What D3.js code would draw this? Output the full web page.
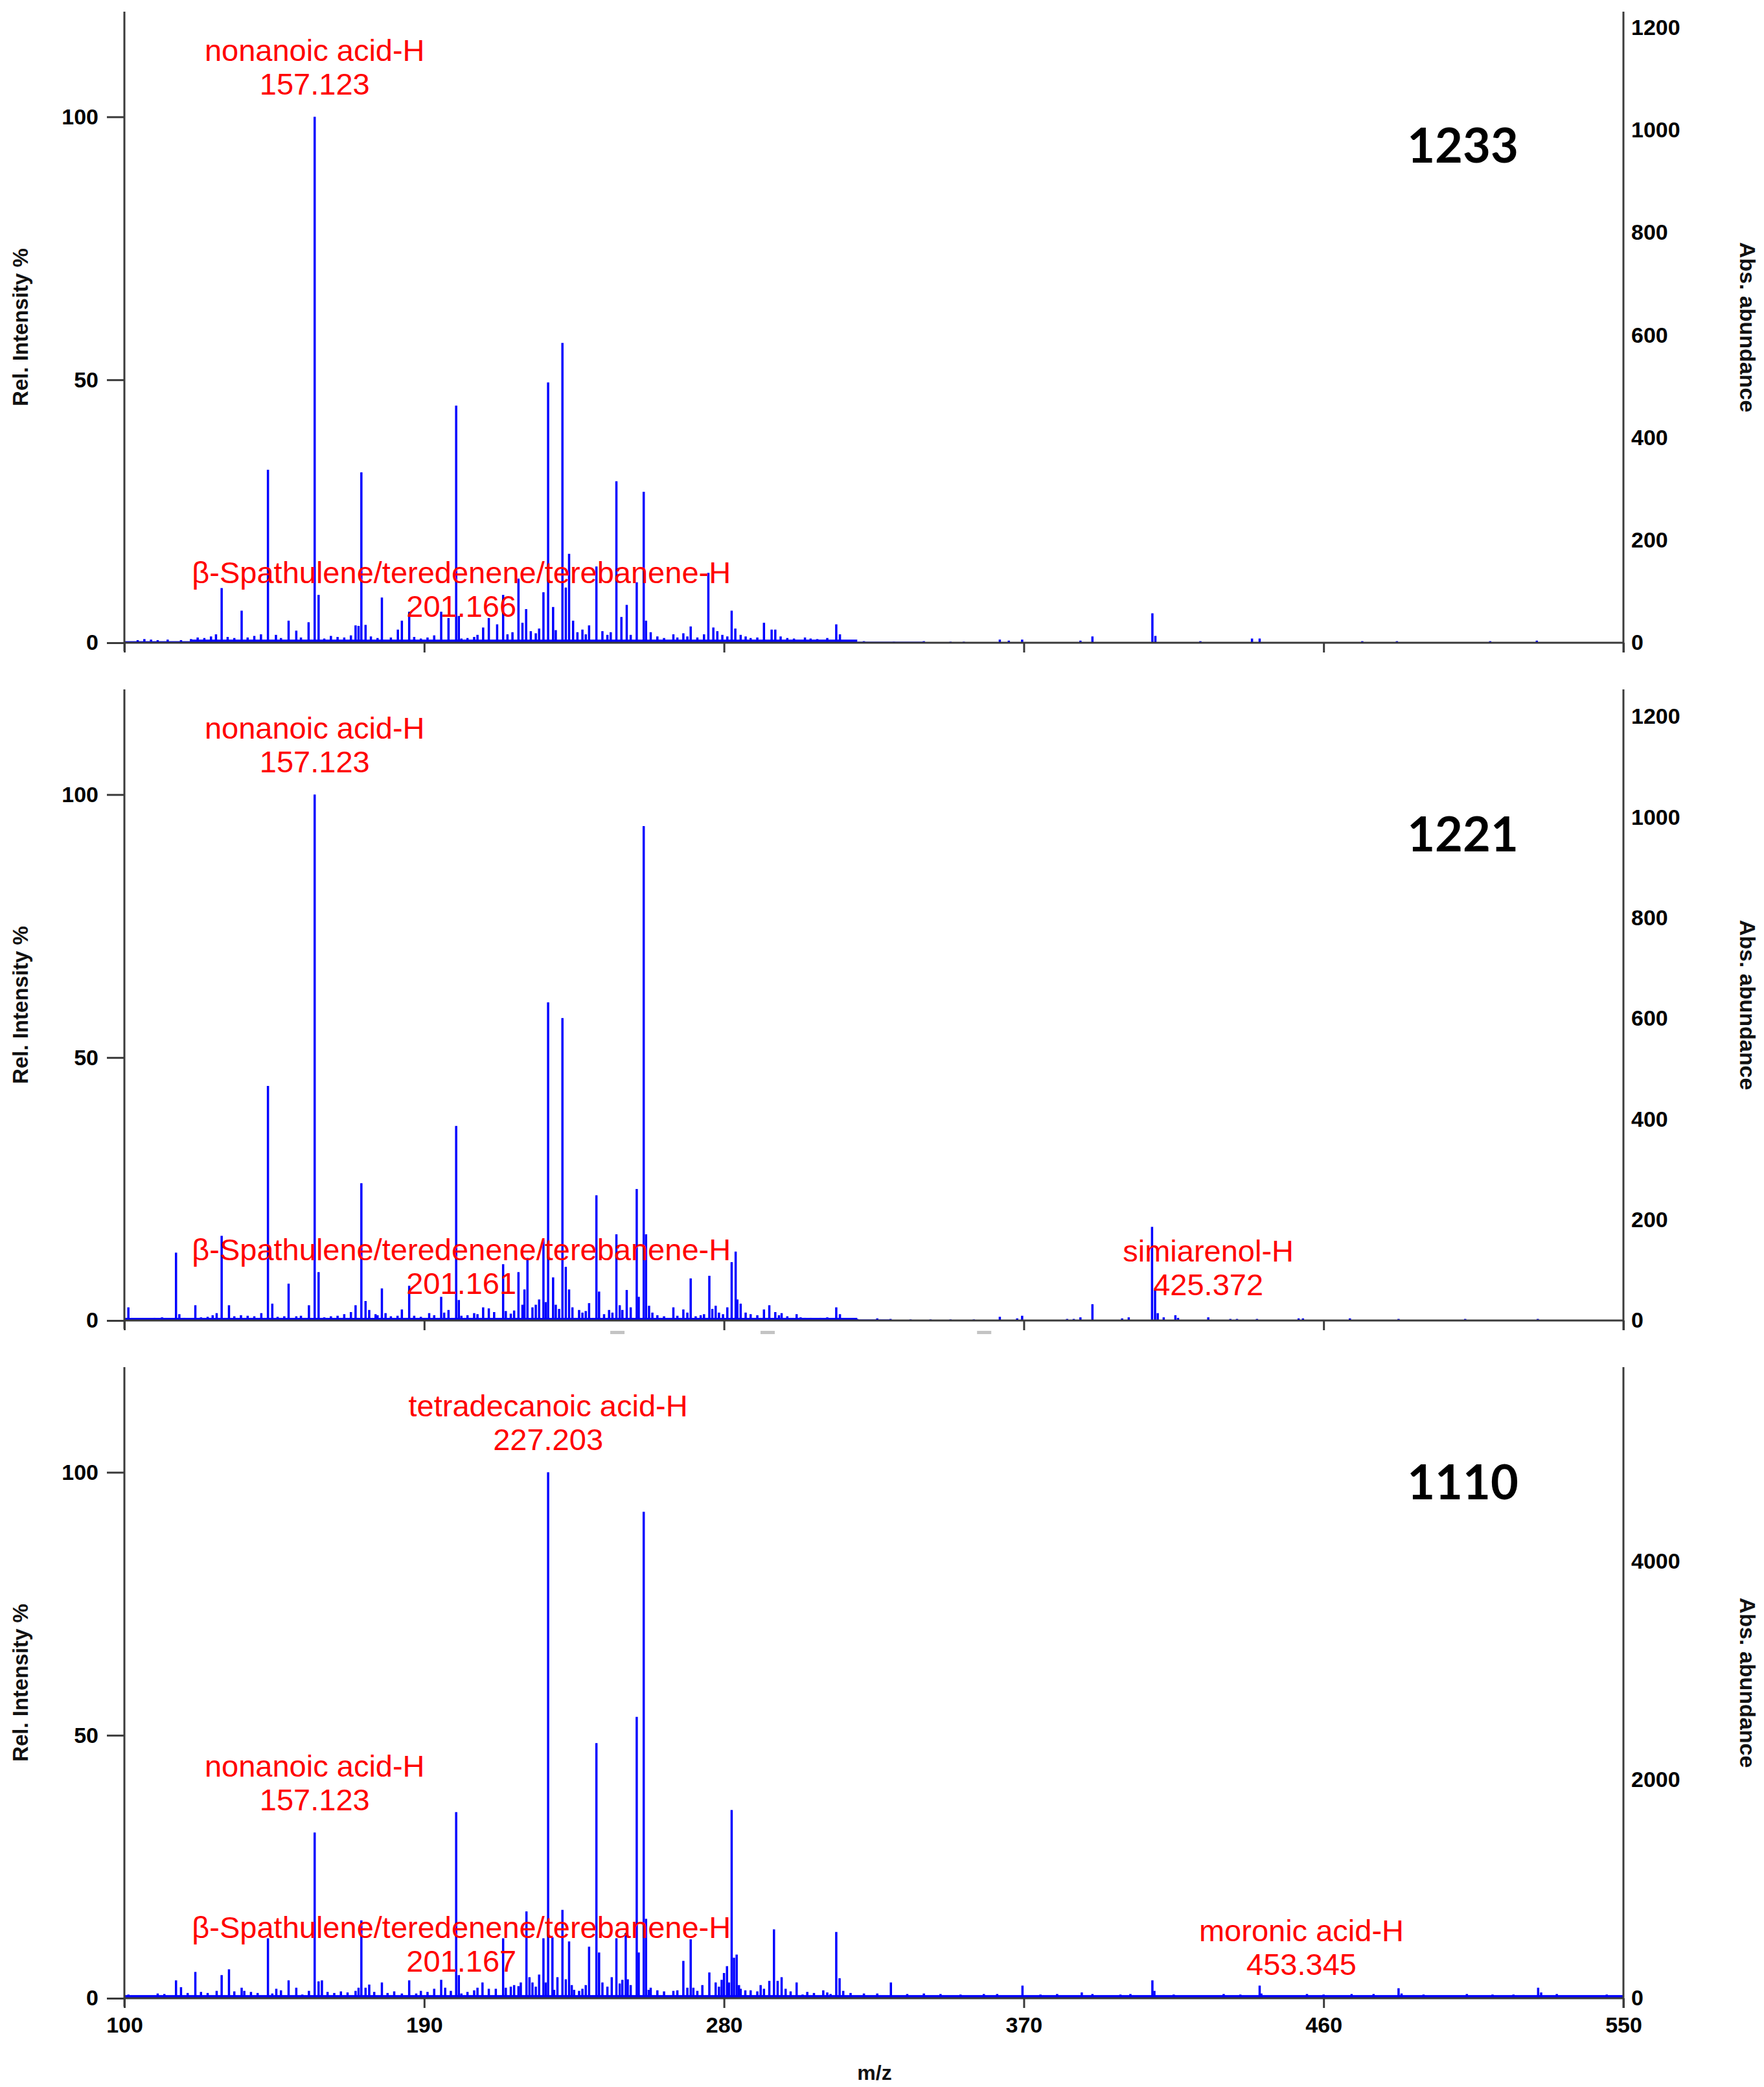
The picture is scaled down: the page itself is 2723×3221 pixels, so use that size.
<!DOCTYPE html>
<html>
<head>
<meta charset="utf-8">
<script src="https://cdn.jsdelivr.net/npm/d3@7/dist/d3.min.js"></script>
<style>
  html, body { margin: 0; padding: 0; background: #ffffff; }
  svg { display: block; }
</style>
</head>
<body>
<svg id="chart" width="2723" height="3221"></svg>
<script>
// ---------------- DATA ----------------
const panelNames = ["1233", "1221", "1110"];
const mzTicks = [100, 190, 280, 370, 460, 550];
const relTicks = [0, 50, 100];
const relMax = 120;
const absMax = [1231, 1254, 5780];
const absTicks1233 = [0, 200, 400, 600, 800, 1000, 1200];
const absTicks1221 = [0, 200, 400, 600, 800, 1000, 1200];
const absTicks1110 = [0, 2000, 4000];

// peaks: [m/z, relative intensity %]
const peaks1233 = [
  [129.2,10.4],[135.2,6.1],[143.1,32.9],[149.3,4.2],[151.6,2.3],[155.3,3.9],[157.123,100],[158.3,9.1],
  [169.4,3.3],[170.3,3.2],[171.14,32.4],[172.4,3.4],[177.3,8.6],[182.1,2.5],[183.3,4.2],[185.5,5.9],
  [195.1,5.9],[197.3,4.7],[199.6,45.1],[200.4,5.1],[201.166,0.8],[207.7,2.9],[209.4,4.7],[211.9,3.5],
  [213.7,9.1],[218.3,12.2],[220.6,6.4],[225.8,9.6],[227.2,49.5],[228.7,6.8],[231.5,57],[232.5,10.5],
  [233.5,16.9],[234.7,4.2],[239.5,3.3],[241.7,14.5],[247.7,30.7],[249.2,4.9],[250.8,7.2],[253.8,11.5],
  [255.9,28.7],[256.6,4.2],[264.8,1.6],[267.8,1.8],[270.0,3.1],[275.3,13.3],[276.8,2.9],[282.3,6.1],
  [283.4,2.7],[292,3.8],[294.3,2.5],[295.4,2.5],[304.3,1],[313.7,3.5],[314.8,1.6],
  [104,0.5],[106,0.7],[108,0.6],[110,0.5],[113,0.6],[117,0.5],[120,0.7],[122,1.0],[124,0.9],[126,1.2],
  [127.5,1.6],[131,1.1],[133,0.9],[137,1.0],[139,1.3],[141,1.6],[145.5,1.5],[147,0.9],[153,1.0],[160,0.8],
  [162,1.3],[164,1.1],[166,1.0],[168,1.4],[174,1.2],[176,0.9],[180,1.0],[187,1.1],[189,0.8],[191,1.0],
  [193,1.4],[203,0.9],[205,1.1],[206,1.5],[215,1.6],[216.5,2.0],[219.5,3.8],[222,2.2],[223.5,1.8],[224.5,2.7],
  [229.5,2.4],[236,2.0],[237.5,2.5],[238.5,1.6],[243.5,2.2],[245,1.5],[246,2.0],[252,1.5],[258,2.0],[260,1.2],
  [262,0.9],[266,1.0],[269,1.2],[272,1.0],[274,1.6],[278,2.2],[279.5,1.5],[281,1.2],[285,1.5],[286.5,1.2],
  [288,0.9],[290,1.0],[297,1.2],[299,0.9],[301,0.8],[306,0.8],[308,0.7],[311,0.9],[318,0.5],
  [316.5,0.3],[322,0.3],[331,0.2],[340,0.3],[348,0.2],[352,0.2],[362.8,0.6],[365.5,0.4],[369.5,0.6],
  [387,0.4],[390.6,1.2],[408.6,5.6],[409.5,1.3],[423,0.3],[438.5,0.8],[440.8,0.8],[471.6,0.3],[482,0.3],
  [510,0.3],[524,0.4]
];
const peaks1221 = [
  [101.2,2.5],[111.3,0.6],[115.5,12.9],[116.5,1.2],[121.3,2.9],[127.7,1.4],[129.2,16.1],[131.4,2.9],
  [141.1,1.4],[143.1,44.6],[144.4,3.2],[149.3,7.0],[151.6,0.8],[155.4,2.9],[157.123,100],[158.3,9.2],
  [169.4,2.9],[171.14,26.1],[172.4,3.7],[175.4,1.2],[177.3,6.1],[178.4,1.4],[183.3,2.1],[185.5,6.6],
  [191.5,1.4],[195.1,4.5],[197.3,2.0],[199.6,37.0],[200.4,3.9],[201.161,0.9],[207.7,2.5],[209.4,2.3],
  [213.7,10.7],[214.5,1.8],[218.3,9.2],[220.1,5.9],[221.0,11.9],[225.8,15.4],[227.2,60.5],[228.7,8.2],
  [231.5,57.5],[232.5,10.2],[233.5,5.9],[236.5,2.0],[239.5,3.3],[241.7,23.8],[242.5,5.5],[247.7,16.4],
  [248.7,2.9],[250.8,5.8],[253.8,25.0],[254.4,4.5],[255.9,94],[256.6,16.4],[264.8,2.5],[267.8,2.1],
  [270.0,8.0],[271.5,0.8],[275.6,8.5],[277.5,2.8],[279.7,1.2],[282.3,11.1],[283.5,13.1],[285,3.2],
  [292,2.1],[293.6,2.9],[295.4,1.6],[297.3,1.4],[301.8,1.2],[304.3,0.5],[313.7,2.5],[314.8,1.2],
  [326,0.4],[330,0.3],
  [104,0.4],[107,0.4],[109,0.5],[113,0.4],[118,0.5],[123,0.6],[125,0.7],[126.5,1.0],[133,0.8],[135,1.0],
  [137,0.9],[139,0.8],[146,0.7],[148,0.8],[153,0.9],[160,0.6],[162,0.8],[164,0.9],[166,1.2],[168,1.6],
  [173.5,2.0],[176,1.0],[180,0.8],[182,0.9],[187,0.9],[189,0.7],[193,1.0],[196,1.5],[203,1.0],[205,1.4],
  [206,1.2],[211,1.6],[216,1.3],[217,1.9],[219.5,3.0],[222.5,2.5],[223.5,3.0],[224.5,4.0],[226.5,3.5],
  [229.5,3.0],[230.5,2.2],[234.5,2.5],[237.5,1.5],[238.5,1.8],[244,1.2],[245.5,2.0],[246.5,1.5],[249.5,2.0],
  [252,2.5],[257.5,2.8],[258.5,1.5],[260,1.0],[262,0.8],[266,0.9],[269,1.5],[273,1.0],[274,1.2],[276.5,2.2],
  [278.5,1.5],[281,2.5],[284,4.0],[286.5,1.5],[288,1.2],[290,1.0],[296.5,1.0],[299,0.8],[303,0.6],[306,0.5],
  [309,0.5],[311,0.6],[317,0.4],[320,0.3],
  [336,0.2],[342,0.2],[348,0.2],[355,0.2],[362.8,0.7],[368,0.4],[369.5,0.9],[383,0.3],[385,0.3],[387,0.6],
  [390.6,3.1],[399.5,0.4],[401.5,0.6],[408.5,17.8],[409.4,5.8],[410.2,1.4],[412,0.6],[415.5,1.0],[416.3,0.5],
  [425.372,0.6],[432,0.3],[434,0.3],[440,0.3],[452.5,0.4],[453.8,0.4],[467.9,0.4],[482.5,0.3],[502.5,0.3],
  [524.3,0.3]
];
const peaks1110 = [
  [101.2,0.7],[115.5,3.4],[117,2.1],[121.3,5.0],[127.7,1.4],[129.2,4.4],[131.4,5.5],[135.2,2.0],[136,1.4],
  [143.1,11.4],[144.4,0.9],[145.6,1.8],[149.3,3.4],[151.6,2.0],[153.4,0.7],[155.4,1.4],[157.123,31.5],
  [158.3,3.2],[159.3,3.4],[169.4,1.4],[170.3,2.0],[171.14,14.8],[172.4,2.0],[173.5,2.6],[177.3,3.0],
  [183.3,0.9],[185.5,3.4],[187.6,0.9],[195.1,3.5],[196.3,2.0],[199.6,35.4],[200.4,4.4],[201.167,0.9],
  [207.5,3.0],[209.4,1.8],[211.5,1.8],[213.7,11.4],[214.5,2.0],[218.3,2.3],[220.7,16.5],[221.6,4.0],
  [225.8,11.4],[227.203,100],[228.5,11.6],[229,1.6],[231.5,16.8],[232.5,3.6],[233.5,10.8],[235,1.6],
  [236.5,1.4],[239.5,9.8],[241.7,48.5],[242.5,8.7],[247.7,11.4],[248.7,2.8],[250.5,12.4],[251.1,3.6],
  [253.8,53.5],[254.4,8.7],[255.9,92.5],[256.6,15.1],[257.4,1.6],[264.8,1.4],[267.8,7.1],[270,11.2],
  [270.8,2.0],[275.6,4.9],[277.5,3.0],[280,4.8],[280.9,6.1],[282.3,35.8],[283.0,7.7],[283.8,8.3],[285,1.8],
  [286.4,1.5],[292,1.8],[293.6,3.3],[295,13.1],[296.1,3.3],[297.3,4.0],[301.8,3.0],[303.6,0.7],[309.8,1.5],
  [312,0.8],[313.7,12.6],[314.7,3.8],[315.8,1.4],[330.1,3.0],[351,0.7],[369.6,2.4],[387.4,1.1],[390.6,0.8],
  [395.9,0.3],[408.6,3.4],[409.2,1.4],[418,0.3],[426.7,0.3],[440.8,2.4],[441.3,0.9],[449.5,0.3],
  [453.345,0.3],[468.4,0.8],[482.5,1.9],[483.4,0.9],[497,0.3],[510.7,0.7],[524.4,2.0],[525.3,1.1],[538.5,0.3],
  [110,0.9],[112,0.8],[119,1.0],[123,1.2],[125,1.0],[133,1.3],[138,1.2],[140,1.0],[147,1.5],[161,1.2],
  [163,1.0],[165,1.3],[167,1.1],[175,1.2],[179,1.0],[181,1.3],[189,1.4],[191,1.2],[193,1.8],[198,1.4],
  [203,1.2],[205,1.5],[206,2.0],[216,2.2],[217,2.5],[219,3.0],[222.5,3.0],[223.5,2.2],[224.5,4.5],[226.5,3.0],
  [230,4.0],[234.3,2.5],[237.5,1.8],[238.5,2.5],[243.5,3.0],[245,2.2],[246.3,4.0],[249.5,3.5],[252,2.5],
  [258,2.0],[260,1.5],[262,1.3],[266,1.5],[269,2.0],[272,1.4],[273.5,2.5],[278.5,2.2],[279.3,3.5],[281.5,3.0],
  [284.5,2.5],[288,1.5],[290,1.3],[291,2.5],[298.5,1.8],[300,1.3],[305,1.2],[307,1.0],[311,1.1],[318,1.0],
  [322,0.9],[326,0.9],[335,0.8],[340,0.9],[345,0.8],[358,0.8],[362,0.8],[375,0.7],[380,0.8],[399,0.7],
  [402,0.8],[415,0.7],[430,0.8],[435,0.7],[455,0.8],[460,0.7],[475,0.8],[490,0.7],[503,0.8],[517,0.7],
  [530,0.8],[545,0.7]
];

// baseline noise floor: [m/z start, m/z end, level %]
const noise1233 = [[100,120,0.3],[120,320,0.6],[320,340,0.2]];
const noise1221 = [[100,320,0.5],[320,330,0.2]];
const noise1110 = [[100,550,0.6]];

// annotations: [label, m/z]
const annot1233 = [["nonanoic acid-H", "157.123"], ["β-Spathulene/teredenene/terebanene-H", "201.166"]];
const annot1221 = [["nonanoic acid-H", "157.123"], ["β-Spathulene/teredenene/terebanene-H", "201.161"], ["simiarenol-H", "425.372"]];
const annot1110 = [["tetradecanoic acid-H", "227.203"], ["nonanoic acid-H", "157.123"], ["β-Spathulene/teredenene/terebanene-H", "201.167"], ["moronic acid-H", "453.345"]];

// faint grey marks below the middle axis (scan artifacts), m/z positions
const marks1221 = [248.0, 293.1, 358.1];

// ---------------- LAYOUT ----------------
const W = 2723, H = 3221;
const X0 = 192, X1 = 2506;
const panelTops = [18, 1064, 2110];
const panelH = 974;
const panelLabelY = [251, 1314, 2314];
const AX = "#3a3a3a";
const FONT = "'Liberation Sans', Arial, Helvetica, sans-serif";

const peaksAll = [peaks1233, peaks1221, peaks1110];
const noiseAll = [noise1233, noise1221, noise1110];
const annotAll = [annot1233, annot1221, annot1110];
const absTicksAll = [absTicks1233, absTicks1221, absTicks1110];
const marksAll = [[], marks1221, []];

const svg = d3.select("#chart");
svg.append("rect").attr("width", W).attr("height", H).attr("fill", "#fff");

const x = d3.scaleLinear().domain([100, 550]).range([X0, X1]);

panelNames.forEach((name, i) => {
  const top = panelTops[i], base = top + panelH;
  const y = d3.scaleLinear().domain([0, relMax]).range([base, top]);
  const yAbs = d3.scaleLinear().domain([0, absMax[i]]).range([base, top]);
  const g = svg.append("g");

  // noise floor
  g.append("g").selectAll("rect").data(noiseAll[i]).join("rect")
    .attr("x", d => x(d[0])).attr("width", d => x(d[1]) - x(d[0]))
    .attr("y", d => y(d[2])).attr("height", d => base - y(d[2]))
    .attr("fill", "#0000ff");

  // peaks
  g.append("g").selectAll("line").data(peaksAll[i]).join("line")
    .attr("x1", d => x(d[0])).attr("x2", d => x(d[0]))
    .attr("y1", base).attr("y2", d => y(d[1]))
    .attr("stroke", "#0000ff").attr("stroke-width", 3.5);

  // x axis (ticks)
  const xa = g.append("g").attr("transform", `translate(0,${base})`)
    .call(d3.axisBottom(x).tickValues(mzTicks).tickSize(15).tickPadding(14).tickFormat(d3.format("d")));
  xa.select(".domain").remove();
  xa.selectAll(".tick line").attr("stroke", AX).attr("stroke-width", 3);
  xa.selectAll(".tick text").attr("font-family", FONT).attr("font-weight", "bold")
    .attr("font-size", 34).attr("fill", "#000");
  if (i < 2) xa.selectAll(".tick text").remove();

  // baseline
  g.append("line").attr("x1", X0).attr("x2", X1).attr("y1", base).attr("y2", base)
    .attr("stroke", AX).attr("stroke-width", 3);

  // left axis
  const la = g.append("g").attr("transform", `translate(${X0},0)`)
    .call(d3.axisLeft(y).tickValues(relTicks).tickSize(27).tickPadding(13).tickFormat(d3.format("d")));
  la.select(".domain").remove();
  la.selectAll(".tick line").attr("stroke", AX).attr("stroke-width", 3);
  la.selectAll(".tick text").attr("font-family", FONT).attr("font-weight", "bold")
    .attr("font-size", 34).attr("fill", "#000");
  g.append("line").attr("x1", X0).attr("x2", X0).attr("y1", top).attr("y2", base + 13)
    .attr("stroke", AX).attr("stroke-width", 3);

  // right axis
  const ra = g.append("g").attr("transform", `translate(${X1},0)`)
    .call(d3.axisRight(yAbs).tickValues(absTicksAll[i]).tickSize(0).tickPadding(12).tickFormat(d3.format("d")));
  ra.select(".domain").remove();
  ra.selectAll(".tick text").attr("font-family", FONT).attr("font-weight", "bold")
    .attr("font-size", 34).attr("fill", "#000");
  g.append("line").attr("x1", X1).attr("x2", X1).attr("y1", top).attr("y2", base + 15)
    .attr("stroke", AX).attr("stroke-width", 3);

  // axis titles
  g.append("text").attr("transform", `translate(31,${(top + base) / 2}) rotate(-90)`)
    .attr("text-anchor", "middle").attr("dominant-baseline", "central")
    .attr("font-family", FONT).attr("font-weight", "bold").attr("font-size", 33)
    .attr("fill", "#111").text("Rel. Intensity %");
  g.append("text").attr("transform", `translate(2698,${(top + base) / 2}) rotate(90)`)
    .attr("text-anchor", "middle").attr("dominant-baseline", "central")
    .attr("font-family", FONT).attr("font-weight", "bold").attr("font-size", 34)
    .attr("fill", "#111").text("Abs. abundance");

  // faint marks
  g.append("g").selectAll("rect").data(marksAll[i]).join("rect")
    .attr("x", d => x(d) - 11).attr("width", 22).attr("y", base + 16).attr("height", 5)
    .attr("fill", "#c4c4c4");

  // annotations
  annotAll[i].forEach(([label, mzText]) => {
    const mz = +mzText;
    const pk = peaksAll[i].reduce((a, b) => Math.abs(b[0] - mz) < Math.abs(a[0] - mz) ? b : a);
    const yb = y(pk[1]) - 34;
    const t = g.append("text").attr("text-anchor", "middle")
      .attr("font-family", FONT).attr("font-size", 47).attr("fill", "#ff0000");
    t.append("tspan").attr("x", x(mz)).attr("y", yb - 52).text(label);
    t.append("tspan").attr("x", x(mz)).attr("y", yb).text(mzText);
  });

  // panel label
  g.append("text").attr("x", 2258).attr("y", panelLabelY[i]).attr("text-anchor", "middle")
    .attr("font-family", "Lato, 'Open Sans', sans-serif").attr("font-weight", "bold")
    .attr("font-size", 74).attr("fill", "#000").text(name);
});

// x axis title
svg.append("text").attr("x", 1350).attr("y", 3210).attr("text-anchor", "middle")
  .attr("font-family", FONT).attr("font-weight", "bold").attr("font-size", 32)
  .attr("fill", "#111").text("m/z");
</script>
</body>
</html>
